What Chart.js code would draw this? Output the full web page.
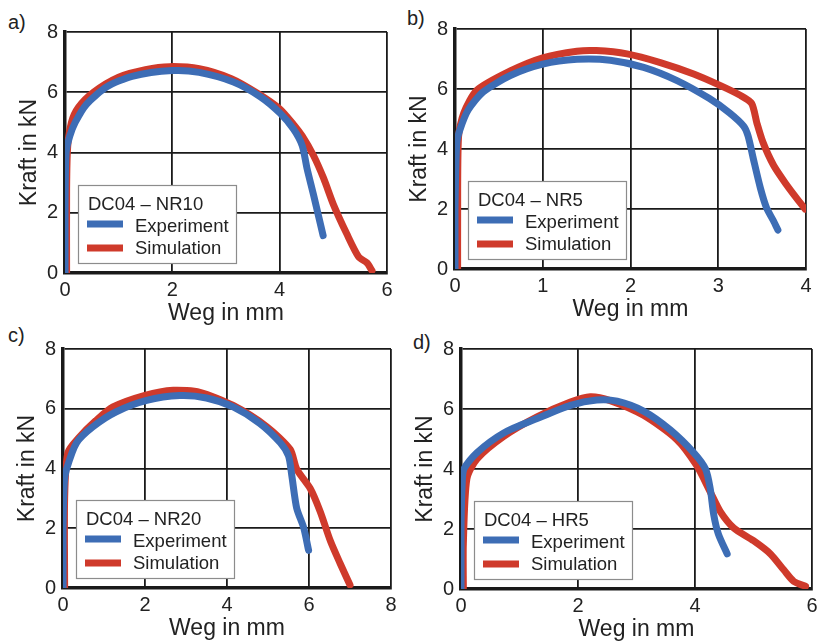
<!DOCTYPE html>
<html>
<head>
<meta charset="utf-8">
<script src="https://cdn.jsdelivr.net/npm/chart.js@4.4.1/dist/chart.umd.min.js"></script>
<style>
  html, body { margin: 0; padding: 0; background: #fff; overflow: hidden; }
  body { width: 821px; height: 641px; position: relative; }
  canvas { position: absolute; }
  .tag { position: absolute; font: 20px/20px Arial, "Liberation Sans", sans-serif; color: #222; }
</style>
</head>
<body>
<span class="tag" style="left:8px;top:12px">a)</span>
<span class="tag" style="left:407px;top:8px">b)</span>
<span class="tag" style="left:8px;top:325px">c)</span>
<span class="tag" style="left:413px;top:332px">d)</span>
<canvas id="chartA"></canvas>
<canvas id="chartB"></canvas>
<canvas id="chartC"></canvas>
<canvas id="chartD"></canvas>
<script>
// series labels
const seriesLabels = ['Experiment', 'Simulation'];
const yTicks = [0, 2, 4, 6, 8];

// a) DC04 – NR10
const aExpX = [0, 0, 0.02, 0.09, 0.19, 0.4, 0.78, 1.25, 2.0, 2.5, 3.14, 3.64, 4.01, 4.26, 4.42, 4.51, 4.63, 4.81];
const aExpY = [0, 2.0, 4.0, 4.55, 5.0, 5.6, 6.18, 6.53, 6.72, 6.66, 6.34, 5.85, 5.3, 4.77, 4.23, 3.47, 2.6, 1.24];
const aSimX = [0.03, 0.03, 0.05, 0.12, 0.25, 0.53, 1.0, 1.5, 1.95, 2.5, 3.1, 3.6, 4.0, 4.25, 4.42, 4.63, 4.82, 5.0, 5.25, 5.47, 5.63, 5.72];
const aSimY = [0, 2.8, 4.2, 5.0, 5.5, 6.0, 6.5, 6.75, 6.85, 6.78, 6.45, 5.95, 5.45, 4.95, 4.55, 3.9, 3.14, 2.28, 1.3, 0.54, 0.33, 0.08];

// b) DC04 – NR5
const bExpX = [0, 0, 0.02, 0.057, 0.15, 0.32, 0.63, 1.0, 1.39, 1.77, 2.15, 2.53, 2.9, 3.13, 3.29, 3.34, 3.4, 3.48, 3.55, 3.63, 3.68];
const bExpY = [0, 2.0, 4.2, 4.65, 5.3, 5.9, 6.45, 6.83, 6.99, 6.96, 6.72, 6.28, 5.68, 5.2, 4.76, 4.43, 3.67, 2.7, 2.04, 1.6, 1.3];
const bSimX = [0.03, 0.03, 0.04, 0.1, 0.25, 0.63, 1.0, 1.39, 1.61, 1.96, 2.34, 2.72, 3.02, 3.25, 3.38, 3.44, 3.51, 3.63, 3.78, 3.89, 3.99];
const bSimY = [0, 1.5, 4.4, 5.2, 5.96, 6.6, 7.04, 7.26, 7.28, 7.17, 6.88, 6.5, 6.12, 5.79, 5.52, 4.87, 4.22, 3.46, 2.8, 2.37, 2.0];

// c) DC04 – NR20
const cExpX = [0, 0, 0.03, 0.08, 0.33, 0.73, 1.3, 2.04, 2.85, 3.5, 4.15, 4.8, 5.3, 5.5, 5.58, 5.7, 5.87, 5.99];
const cExpY = [0, 2.0, 3.5, 3.95, 4.86, 5.4, 5.9, 6.28, 6.44, 6.36, 6.06, 5.51, 4.86, 4.42, 3.77, 2.67, 2.02, 1.26];
const cSimX = [0.04, 0.04, 0.12, 0.4, 0.8, 1.22, 2.0, 2.69, 3.34, 4.15, 4.97, 5.54, 5.7, 6.03, 6.27, 6.52, 6.76, 7.0];
const cSimY = [0, 3.0, 4.53, 5.05, 5.6, 6.06, 6.45, 6.62, 6.55, 6.11, 5.4, 4.64, 3.98, 3.33, 2.57, 1.58, 0.82, 0.1];

// d) DC04 – HR5
const dExpX = [0, 0, 0.02, 0.05, 0.27, 0.73, 1.3, 1.87, 2.32, 2.67, 3.12, 3.58, 3.98, 4.18, 4.26, 4.32, 4.4, 4.55];
const dExpY = [0, 2.0, 3.5, 4.0, 4.54, 5.2, 5.68, 6.12, 6.3, 6.26, 5.93, 5.3, 4.54, 4.0, 3.35, 2.48, 1.83, 1.17];
const dSimX = [0.04, 0.04, 0.1, 0.27, 0.73, 1.3, 1.87, 2.21, 2.55, 3.12, 3.69, 4.03, 4.26, 4.43, 4.66, 5.0, 5.29, 5.52, 5.69, 5.89];
const dSimY = [0, 1.5, 3.67, 4.33, 5.09, 5.74, 6.23, 6.41, 6.28, 5.79, 4.98, 4.11, 3.24, 2.59, 2.04, 1.61, 1.17, 0.63, 0.25, 0.09];

const FONT = 'Arial, "Liberation Sans", sans-serif';
const BLUE = '#3d6db5';
const RED = '#cf3a2b';
const INK = '#222';

const YW = 60, XH = 56, PADT = 14, PADR = 16;

const zip = (xs, ys) => xs.map((x, i) => ({ x, y: ys[i] }));

const boxLegend = {
  id: 'boxLegend',
  afterDraw(chart, args, opts) {
    const { ctx, chartArea } = chart;
    const x = Math.round(chartArea.left + 13);
    const y = Math.round(chartArea.bottom - 88);
    ctx.save();
    ctx.fillStyle = '#fff';
    ctx.fillRect(x, y, 158, 78);
    ctx.strokeStyle = '#8c8c8c';
    ctx.lineWidth = 1.2;
    ctx.strokeRect(x + 0.5, y + 0.5, 158, 78);
    ctx.font = `18.5px ${FONT}`;
    ctx.fillStyle = INK;
    ctx.textBaseline = 'alphabetic';
    ctx.fillText(opts.title, x + 10, y + 25);
    chart.data.datasets.forEach((ds, i) => {
      const ly = y + 39 + i * 24;
      ctx.strokeStyle = ds.borderColor;
      ctx.lineWidth = 7;
      ctx.beginPath();
      ctx.moveTo(x + 9, ly);
      ctx.lineTo(x + 45, ly);
      ctx.stroke();
      ctx.fillText(ds.label, x + 57, y + 47 + i * 22);
    });
    ctx.restore();
  },
};

function makePanel(id, area, xMax, xStep, title, exp, sim) {
  const canvas = document.getElementById(id);
  const w = YW + (area.r - area.l) + PADR;
  const h = PADT + (area.b - area.t) + XH;
  canvas.width = w;
  canvas.height = h;
  canvas.style.left = (area.l - YW) + 'px';
  canvas.style.top = (area.t - PADT) + 'px';
  canvas.style.width = w + 'px';
  canvas.style.height = h + 'px';

  const line = (label, data, color) => ({
    label,
    data,
    parsing: false,
    borderColor: color,
    backgroundColor: color,
    borderWidth: 7,
    borderCapStyle: 'round',
    borderJoinStyle: 'round',
    pointRadius: 0,
    tension: 0.25,
    fill: false,
  });

  new Chart(canvas, {
    type: 'line',
    data: {
      datasets: [
        line(seriesLabels[0], exp, BLUE),
        line(seriesLabels[1], sim, RED),
      ],
    },
    options: {
      responsive: false,
      animation: false,
      devicePixelRatio: 1,
      layout: { padding: { top: PADT, right: PADR, left: 0, bottom: 0 } },
      scales: {
        x: {
          type: 'linear',
          min: 0,
          max: xMax,
          afterFit: (s) => { s.height = XH; },
          grid: { color: '#1a1a1a', lineWidth: 1.8, drawTicks: false },
          border: { color: '#1a1a1a', width: 3.5 },
          ticks: { stepSize: xStep, color: INK, padding: 5, font: { family: FONT, size: 20 } },
          title: { display: true, text: 'Weg in mm', color: INK, padding: { top: 0, bottom: 2 }, font: { family: FONT, size: 23 } },
        },
        y: {
          min: 0,
          max: 8,
          afterFit: (s) => { s.width = YW; },
          afterBuildTicks: (s) => { s.ticks = yTicks.map((v) => ({ value: v })); },
          grid: { color: '#1a1a1a', lineWidth: 1.8, drawTicks: false },
          border: { color: '#1a1a1a', width: 3.5 },
          ticks: { color: INK, padding: 7, font: { family: FONT, size: 20 } },
          title: { display: true, text: 'Kraft in kN', color: INK, padding: 11, font: { family: FONT, size: 23 } },
        },
      },
      plugins: {
        legend: { display: false },
        tooltip: { enabled: false },
        boxLegend: { title },
      },
    },
    plugins: [boxLegend],
  });
}

makePanel('chartA', { l: 65, t: 27, r: 387, b: 273 }, 6, 2, 'DC04 – NR10', zip(aExpX, aExpY), zip(aSimX, aSimY));
makePanel('chartB', { l: 455, t: 24, r: 806, b: 269 }, 4, 1, 'DC04 – NR5', zip(bExpX, bExpY), zip(bSimX, bSimY));
makePanel('chartC', { l: 63, t: 344, r: 391, b: 588 }, 8, 2, 'DC04 – NR20', zip(cExpX, cExpY), zip(cSimX, cSimY));
makePanel('chartD', { l: 461, t: 344, r: 812, b: 589 }, 6, 2, 'DC04 – HR5', zip(dExpX, dExpY), zip(dSimX, dSimY));
</script>
</body>
</html>
